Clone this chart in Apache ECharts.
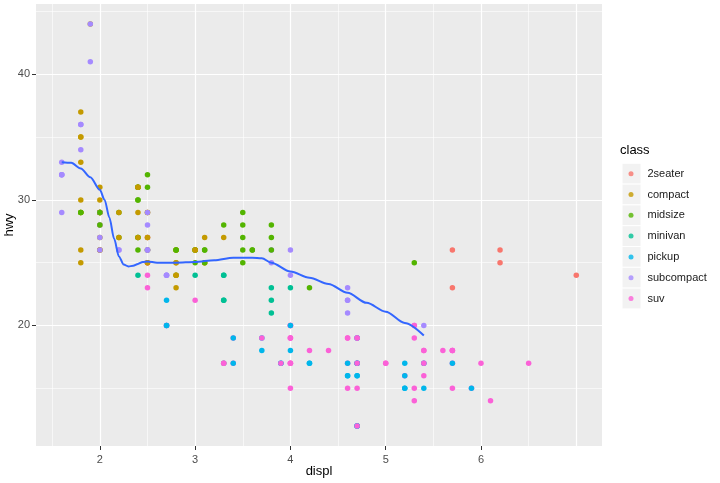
<!DOCTYPE html>
<html>
<head>
<meta charset="utf-8">
<style>html,body{margin:0;padding:0;background:#fff;}#chart{width:720px;height:483px;}</style>
<script src="https://cdn.jsdelivr.net/npm/echarts@6/dist/echarts.min.js"></script>
</head>
<body>
<div id="chart"></div>
<script>
// ---- data (mpg, row order) ----
const classes = ['2seater', 'compact', 'midsize', 'minivan', 'pickup', 'subcompact', 'suv'];

const displ = [
  1.8,1.8,2.0,2.0,2.8,2.8,3.1,            // audi a4
  1.8,1.8,2.0,2.0,2.8,2.8,3.1,3.1,        // audi a4 quattro
  2.8,3.1,4.2,                            // audi a6 quattro
  5.3,5.3,5.3,5.7,6.0,                    // c1500 suburban
  5.7,5.7,6.2,6.2,7.0,                    // corvette
  5.3,5.3,5.7,6.5,                        // k1500 tahoe
  2.4,2.4,3.1,3.5,3.6,                    // malibu
  2.4,3.0,3.3,3.3,3.3,3.3,3.3,3.8,3.8,3.8,4.0, // caravan
  3.7,3.7,3.9,3.9,4.7,4.7,4.7,5.2,5.2,    // dakota
  3.9,4.7,4.7,4.7,5.2,5.7,5.9,            // durango
  4.7,4.7,4.7,4.7,4.7,4.7,5.2,5.2,5.7,5.9, // ram 1500
  4.6,5.4,5.4,                            // expedition
  4.0,4.0,4.0,4.0,4.6,5.0,                // explorer
  4.2,4.2,4.6,4.6,4.6,5.4,5.4,            // f150
  3.8,3.8,4.0,4.0,4.6,4.6,4.6,4.6,5.4,    // mustang
  1.6,1.6,1.6,1.6,1.6,1.8,1.8,1.8,2.0,    // civic
  2.4,2.4,2.4,2.4,2.5,2.5,3.3,            // sonata
  2.0,2.0,2.0,2.0,2.7,2.7,2.7,            // tiburon
  4.0,4.7,3.0,3.7,4.7,4.7,5.7,6.1,        // grand cherokee
  4.0,4.2,4.4,4.6,                        // range rover
  5.4,5.4,5.4,                            // navigator
  4.0,4.0,4.6,5.0,                        // mountaineer
  2.4,2.4,2.5,2.5,3.5,3.5,                // altima
  3.0,3.0,3.5,                            // maxima
  3.3,3.3,4.0,5.6,                        // pathfinder
  3.1,3.8,3.8,3.8,5.3,                    // grand prix
  2.5,2.5,2.5,2.5,2.5,2.5,                // forester
  2.2,2.2,2.5,2.5,2.5,2.5,2.5,2.5,        // impreza
  2.7,2.7,3.4,3.4,4.0,4.7,                // 4runner
  2.2,2.2,2.4,2.4,3.0,3.0,3.5,            // camry
  2.2,2.2,2.4,2.4,3.0,3.0,3.3,            // camry solara
  1.8,1.8,1.8,1.8,1.8,                    // corolla
  4.7,5.7,                                // land cruiser
  2.7,2.7,2.7,3.4,3.4,4.0,4.0,            // tacoma
  2.0,2.0,2.0,2.0,2.8,                    // gti
  1.9,2.0,2.0,2.0,2.0,2.5,2.5,2.8,2.8,    // jetta
  1.9,1.9,2.0,2.0,2.5,2.5,                // new beetle
  1.8,1.8,2.0,2.0,2.8,2.8,3.6             // passat
];

const hwy = [
  29,29,31,30,26,26,27,
  26,25,28,27,25,25,25,25,
  24,25,23,
  20,15,20,17,17,
  26,23,26,25,24,
  19,14,15,17,
  27,30,26,29,26,
  24,24,22,22,24,24,17,22,21,23,23,
  19,18,17,17,19,19,12,17,15,
  17,17,12,17,16,18,15,
  16,12,17,17,16,12,15,16,17,15,
  17,17,18,
  17,19,17,19,19,17,
  17,17,16,16,17,15,17,
  26,25,26,24,21,22,23,22,20,
  33,32,32,29,32,34,36,36,29,
  26,27,30,31,26,26,28,
  26,29,28,27,24,24,24,
  20,17,22,19,19,12,18,14,
  15,18,18,15,
  17,16,18,
  17,19,19,17,
  29,27,31,32,27,26,
  26,25,25,
  17,17,20,18,
  26,26,27,28,25,
  25,24,27,25,26,23,
  26,26,26,26,25,27,25,27,
  20,20,19,17,20,19,
  29,27,31,31,26,26,28,
  27,29,31,31,26,26,27,
  30,33,35,37,35,
  15,18,
  20,20,22,17,19,18,20,
  29,26,29,29,24,
  44,29,26,29,29,29,29,23,24,
  44,41,29,26,28,29,
  29,29,28,29,26,26,26
];

// class index per row (0 2seater, 1 compact, 2 midsize, 3 minivan, 4 pickup, 5 subcompact, 6 suv)
const cls = [
  1,1,1,1,1,1,1,
  1,1,1,1,1,1,1,1,
  2,2,2,
  6,6,6,6,6,
  0,0,0,0,0,
  6,6,6,6,
  2,2,2,2,2,
  3,3,3,3,3,3,3,3,3,3,3,
  4,4,4,4,4,4,4,4,4,
  6,6,6,6,6,6,6,
  4,4,4,4,4,4,4,4,4,4,
  6,6,6,
  6,6,6,6,6,6,
  4,4,4,4,4,4,4,
  5,5,5,5,5,5,5,5,5,
  5,5,5,5,5,5,5,5,5,
  2,2,2,2,2,2,2,
  5,5,5,5,5,5,5,
  6,6,6,6,6,6,6,6,
  6,6,6,6,
  6,6,6,
  6,6,6,6,
  1,1,2,2,2,2,
  2,2,2,
  6,6,6,6,
  2,2,2,2,2,
  6,6,6,6,6,6,
  5,5,5,5,1,1,1,1,
  6,6,6,6,6,6,
  2,2,2,2,2,2,2,
  1,1,1,1,1,1,1,
  1,1,1,1,1,
  6,6,
  4,4,4,4,4,4,4,
  1,1,1,1,1,
  1,1,1,1,1,1,1,1,1,
  5,5,5,5,5,5,
  2,2,2,2,2,2,2
];

// smooth curve (subcompact)
const smoothX = [1.6,1.7,1.8,1.9,2.0,2.05,2.1,2.15,2.2,2.25,2.3,2.35,2.4,2.45,2.5,2.6,2.8,3.0,3.2,3.4,3.6,3.7,3.8,4.0,4.2,4.4,4.6,4.8,5.0,5.2,5.4];
const smoothY = [33.0,32.95,32.5,31.8,30.8,30.0,28.6,26.9,25.5,24.85,24.7,24.75,24.9,25.05,25.1,25.0,25.0,25.05,25.2,25.4,25.4,25.35,25.0,24.3,23.8,23.3,22.6,21.8,21.1,20.2,19.2];

// axes
const xTicks = [2, 3, 4, 5, 6];
const yTicks = [20, 30, 40];
const xMajor = [2, 3, 4, 5, 6, 7];
const xMinor = [1.5, 2.5, 3.5, 4.5, 5.5, 6.5];
const yMajor = [20, 30, 40];
const yMinor = [15, 25, 35, 45];
const xRange = [1.33, 7.27];
const yRange = [10.4, 45.6];

// ---- styles ----
const palette = ['#F8766D', '#C49A00', '#53B400', '#00C094', '#00B6EB', '#A58AFF', '#FB61D7'];
const FONT = 'Liberation Sans, Arial, sans-serif';

const chart = echarts.init(document.getElementById('chart'), null, {renderer: 'canvas'});

const gridLines = [].concat(
  xMinor.map(v => ({xAxis: v, lineStyle: {width: 0.6}})),
  yMinor.map(v => ({yAxis: v, lineStyle: {width: 0.6}})),
  xMajor.map(v => ({xAxis: v, lineStyle: {width: 1.2}})),
  yMajor.map(v => ({yAxis: v, lineStyle: {width: 1.2}}))
);

const legendSeries = classes.map((c, i) => ({
  name: c, type: 'scatter', data: [], symbolSize: 5,
  itemStyle: {color: palette[i]}
}));

const keyRects = classes.map((c, i) => ({
  type: 'rect',
  shape: {x: 622, y: 163.3 + i * 20.8, width: 19, height: 20.8},
  style: {fill: '#F2F2F2', stroke: '#FFFFFF', lineWidth: 1},
  z: -1
}));

chart.setOption({
  animation: false,
  backgroundColor: '#FFFFFF',
  textStyle: {fontFamily: FONT},
  grid: {
    left: 36, top: 4, width: 566, height: 442,
    containLabel: false, outerBoundsMode: 'none',
    show: true, backgroundColor: '#EBEBEB', borderWidth: 0
  },
  xAxis: {
    type: 'value', min: xRange[0], max: xRange[1],
    axisLine: {show: false},
    splitLine: {show: false},
    axisTick: {show: true, length: 4, lineStyle: {color: '#333333', width: 1}, customValues: xTicks},
    axisLabel: {customValues: xTicks, color: '#4D4D4D', fontSize: 11, margin: 8, fontFamily: FONT},
    name: 'displ', nameLocation: 'middle', nameGap: 25, nameMoveOverlap: false,
    nameTextStyle: {color: '#000000', fontSize: 13, fontFamily: FONT, verticalAlign: 'middle'}
  },
  yAxis: {
    type: 'value', min: yRange[0], max: yRange[1],
    axisLine: {show: false},
    splitLine: {show: false},
    axisTick: {show: true, length: 4, lineStyle: {color: '#333333', width: 1}, customValues: yTicks},
    axisLabel: {customValues: yTicks, color: '#4D4D4D', fontSize: 11, margin: 6, fontFamily: FONT},
    name: 'hwy', nameLocation: 'middle', nameGap: 27, nameRotate: 90, nameMoveOverlap: false,
    nameTextStyle: {color: '#000000', fontSize: 13, fontFamily: FONT, verticalAlign: 'middle'}
  },
  legend: {
    data: classes, orient: 'vertical', left: 623.5, top: 158.3, padding: 5,
    icon: 'circle', itemWidth: 5, itemHeight: 5, itemGap: 0,
    selectedMode: false,
    textStyle: {fontSize: 11, color: '#1A1A1A', lineHeight: 20.8, padding: [0, 0, 0, 9], fontFamily: FONT}
  },
  graphic: [
    {type: 'text', left: 620, top: 144, style: {text: 'class', fontSize: 13, fill: '#000000', fontFamily: FONT}}
  ].concat(keyRects),
  series: [
    {
      type: 'scatter', data: [], silent: true, z: 1,
      markLine: {
        silent: true, symbol: ['none', 'none'], label: {show: false}, z: 1,
        lineStyle: {color: '#FFFFFF', type: 'solid'},
        emphasis: {disabled: true},
        data: gridLines
      }
    },
    {
      type: 'scatter', z: 3, symbolSize: 5.5,
      data: displ.map((d, i) => [d, hwy[i], cls[i]]),
      itemStyle: {color: p => palette[p.data[2]], opacity: 1}
    },
    {
      type: 'line', z: 4, showSymbol: false, smooth: 0.3, smoothMonotone: 'x',
      data: smoothX.map((x, i) => [x, smoothY[i]]),
      lineStyle: {color: '#3366FF', width: 2}
    }
  ].concat(legendSeries)
});
</script>
</body>
</html>
